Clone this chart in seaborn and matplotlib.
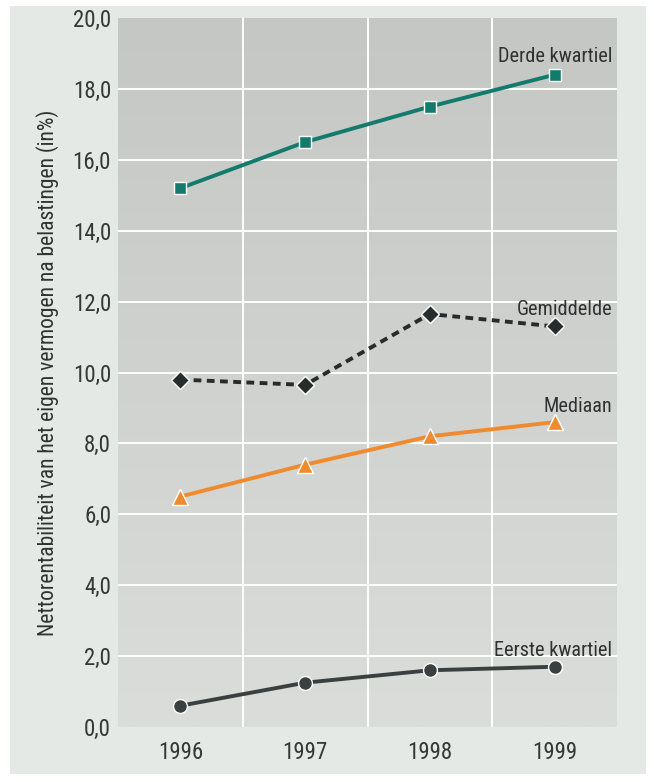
import numpy as np
import pandas as pd
import matplotlib
matplotlib.use("Agg")
import matplotlib.pyplot as plt
from matplotlib.patches import Rectangle
from matplotlib import font_manager
import seaborn as sns

# Data
years = [1996, 1997, 1998, 1999]
derde_kwartiel = [15.2, 16.5, 17.5, 18.4]
gemiddelde = [9.8, 9.65, 11.65, 11.3]
mediaan = [6.5, 7.4, 8.2, 8.6]
eerste_kwartiel = [0.6, 1.25, 1.6, 1.7]
y_ticks = [0, 2, 4, 6, 8, 10, 12, 14, 16, 18, 20]
y_label = "Nettorentabiliteit van het eigen vermogen na belastingen (in%)"

sns.set_theme(style="white")
installed = {f.name for f in font_manager.fontManager.ttflist}
narrow = [f for f in ["Roboto Condensed", "Liberation Sans Narrow",
                      "Open Sans Condensed", "Liberation Sans"] if f in installed]
plt.rcParams["font.family"] = narrow[:1] + ["DejaVu Sans"]

fig = plt.figure(figsize=(6.54, 7.82), dpi=100)
fig.patch.set_facecolor("white")
# light panel behind the chart
fig.patches.append(Rectangle((10 / 654, 8 / 782), 636 / 654, 768 / 782,
                             transform=fig.transFigure, facecolor="#e5e9e5",
                             edgecolor="none", zorder=-10))

ax = fig.add_axes([118 / 654, 55 / 782, 499 / 654, 709 / 782])
ax.set_facecolor("none")

# vertical gradient inside the plotting area
grad = np.linspace(0, 1, 256).reshape(-1, 1)
cmap = matplotlib.colors.LinearSegmentedColormap.from_list(
    "bg", ["#dadddA", "#cfd2cf", "#c4c7c4"])
ax.imshow(grad, extent=[0, 1, 0, 1], transform=ax.transAxes, cmap=cmap,
          aspect="auto", origin="lower", zorder=0)

df = pd.DataFrame({
    "jaar": years * 4,
    "waarde": derde_kwartiel + gemiddelde + mediaan + eerste_kwartiel,
    "reeks": (["Derde kwartiel"] * 4 + ["Gemiddelde"] * 4
              + ["Mediaan"] * 4 + ["Eerste kwartiel"] * 4),
})

styles = {
    "Derde kwartiel": dict(color="#137a6c", marker="s", markersize=9, linestyle="-"),
    "Gemiddelde": dict(color="#262b2b", marker="D", markersize=9, linestyle=(0, (2.0, 1.4))),
    "Mediaan": dict(color="#f08a2e", marker="^", markersize=11, linestyle="-"),
    "Eerste kwartiel": dict(color="#3a4040", marker="o", markersize=10, linestyle="-"),
}
for name, st in styles.items():
    sub = df[df["reeks"] == name]
    sns.lineplot(data=sub, x="jaar", y="waarde", ax=ax, color=st["color"],
                 marker=st["marker"], markersize=st["markersize"],
                 linestyle=st["linestyle"], linewidth=2.8,
                 markeredgecolor="white", markeredgewidth=1.0,
                 zorder=5, legend=False)

# series labels at the right side (baseline positions)
label_pos = {
    "Derde kwartiel": 18.75,
    "Gemiddelde": 11.62,
    "Mediaan": 8.89,
    "Eerste kwartiel": 2.0,
}
for name, yv in label_pos.items():
    ax.text(1999.46, yv, name, ha="right", va="baseline", fontsize=14.6,
            color="#2e3232", zorder=6)

ax.set_xlim(1995.5, 1999.5)
ax.set_ylim(0, 20)
ax.set_xticks(years)
ax.set_xticklabels([str(y) for y in years])
ax.set_yticks(y_ticks)
ax.set_yticklabels([f"{v:.1f}".replace(".", ",") for v in y_ticks])
ax.tick_params(axis="both", length=0, labelsize=16.5, colors="#333838")
ax.tick_params(axis="x", pad=10)
ax.tick_params(axis="y", pad=5)

for v in y_ticks[1:-1]:
    ax.axhline(v, color="white", linewidth=1.4, zorder=1)
for v in [1996.5, 1997.5, 1998.5]:
    ax.axvline(v, color="white", linewidth=1.4, zorder=1)

for s in ax.spines.values():
    s.set_visible(False)

ax.set_xlabel("")
ax.set_ylabel(y_label, fontsize=15.5, color="#2e3232", labelpad=10)

fig.savefig("out.png", dpi=100)
